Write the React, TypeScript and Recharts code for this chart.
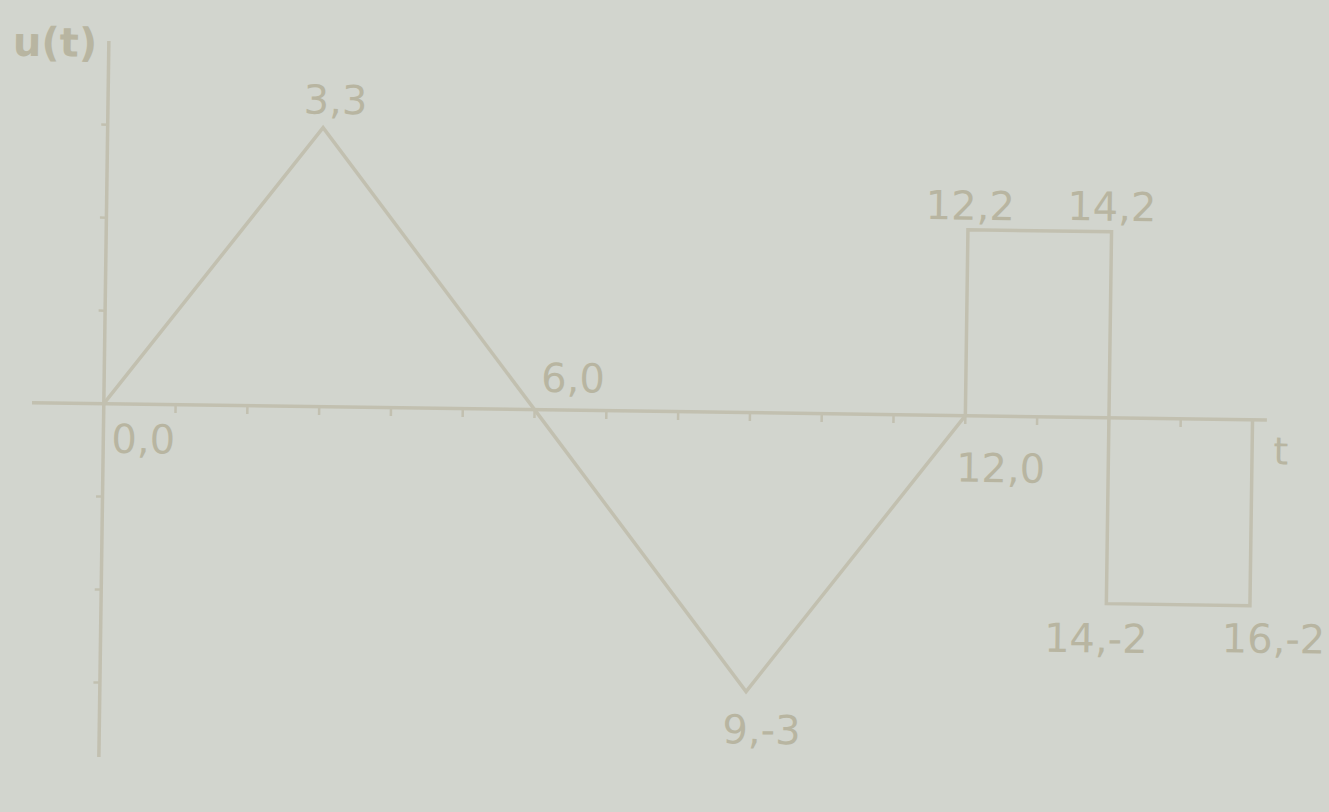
import { ComposedChart, Line, Scatter, XAxis, YAxis, ReferenceLine } from 'recharts';

// waveform corner points u(t)
const T_VALUES = [0, 3, 6, 9, 12, 12, 14, 14, 16, 16];
const U_VALUES = [0, 3, 0, -3, 0, 2, 2, -2, -2, 0];
const POINT_LABELS = ['0,0', '3,3', '6,0', '9,-3', '12,0', '12,2', '14,2', '14,-2', '16,-2', ''];

const X_TICKS = [1, 2, 3, 4, 5, 6, 7, 8, 9, 10, 11, 12, 13, 14, 15];
const Y_TICKS = [-3, -2, -1, 1, 2, 3];

const BG = '#d2d5ce';
const INK = '#c2c0b0';
const TEXT = '#b8b5a1';
const FONT = '"DejaVu Sans", sans-serif';

// where each corner label sits relative to its point (px)
const LABEL_OFFSETS: Record<string, [number, number]> = {
  '0,0': [40, 49],
  '3,3': [12, -14],
  '6,0': [38, -18],
  '9,-3': [16, 52],
  '12,0': [36, 66],
  '12,2': [2, -10],
  '14,2': [0, -11],
  '14,-2': [-10, 49],
  '16,-2': [24, 47],
};

const points = T_VALUES.map((t, i) => ({ t, u: U_VALUES[i], label: POINT_LABELS[i] }));

function CornerLabel(props: any) {
  const { cx, cy, payload } = props;
  const off = LABEL_OFFSETS[payload.label];
  if (!off) return <g />;
  return (
    <text
      x={cx + off[0]}
      y={cy + off[1]}
      textAnchor="middle"
      fill={TEXT}
      fontSize={40}
      fontFamily={FONT}
    >
      {payload.label}
    </text>
  );
}

export default function App() {
  return (
    <div style={{ position: 'absolute', left: 0, top: 0, width: 1329, height: 812, background: BG, overflow: 'hidden' }}>
      <div style={{ position: 'relative', width: 1329, height: 812, transform: 'rotate(0.8deg)', transformOrigin: '104px 404px' }}>
        <ComposedChart width={1329} height={812} margin={{ top: 41, right: 62, bottom: 55, left: 32 }} style={{ overflow: 'visible' }}>
          <XAxis type="number" dataKey="t" domain={[-1, 16.2]} hide />
          <YAxis type="number" dataKey="u" domain={[-3.8, 3.9]} hide />
          <ReferenceLine y={0} stroke={INK} strokeWidth={3.5} />
          <ReferenceLine x={0} stroke={INK} strokeWidth={3.5} />
          {X_TICKS.map((t) => (
            <ReferenceLine
              key={`xt-${t}`}
              segment={[{ x: t, y: 0 }, { x: t, y: -0.09 }]}
              stroke={INK}
              strokeWidth={2.5}
              ifOverflow="visible"
            />
          ))}
          {Y_TICKS.map((v) => (
            <ReferenceLine
              key={`yt-${v}`}
              segment={[{ x: -0.09, y: v }, { x: 0, y: v }]}
              stroke={INK}
              strokeWidth={2.5}
              ifOverflow="visible"
            />
          ))}
          <Line
            data={points}
            dataKey="u"
            type="linear"
            stroke={INK}
            strokeWidth={3.5}
            dot={false}
            isAnimationActive={false}
          />
          <Scatter data={points} dataKey="u" shape={CornerLabel} isAnimationActive={false} />
        </ComposedChart>
        <span style={{ position: 'absolute', left: 8, top: 20, fontFamily: FONT, fontSize: 40, fontWeight: 'bold', color: TEXT }}>u(t)</span>
        <span style={{ position: 'absolute', left: 1274, top: 413, fontFamily: FONT, fontSize: 38, color: TEXT }}>t</span>
      </div>
    </div>
  );
}
